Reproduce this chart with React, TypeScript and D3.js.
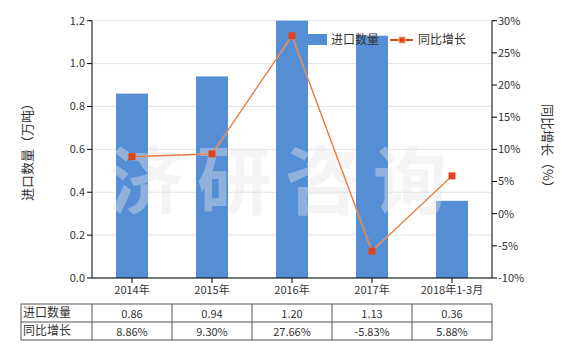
import React from "react";
import * as d3 from "d3";

const categories = ["2014年", "2015年", "2016年", "2017年", "2018年1-3月"];
const importQty = [0.86, 0.94, 1.2, 1.13, 0.36];
const growth = [8.86, 9.3, 27.66, -5.83, 5.88];
const qtyLabels = ["0.86", "0.94", "1.20", "1.13", "0.36"];
const growthLabels = ["8.86%", "9.30%", "27.66%", "-5.83%", "5.88%"];
const leftTicks = [0, 0.2, 0.4, 0.6, 0.8, 1.0, 1.2];
const rightTicks = [-10, -5, 0, 5, 10, 15, 20, 25, 30];

const W = 580, H = 350;
const L = 92, R = 492, T = 20.7, B = 278;
const FONT = "'Noto Sans CJK SC', 'Microsoft YaHei', sans-serif";

export default function App() {
  const x = d3.scaleBand<string>().domain(categories).range([L, R]).paddingInner(0.6).paddingOuter(0.3);
  const yL = d3.scaleLinear().domain([0, 1.2]).range([B, T]);
  const yR = d3.scaleLinear().domain([-10, 30]).range([B, T]);
  const cx = (c: string) => (x(c) ?? 0) + x.bandwidth() / 2;
  const line = d3
    .line<number>()
    .x((_, i) => cx(categories[i]))
    .y((d) => yR(d));
  const step = x.step();
  const rowY = [304, 322, 340];

  return (
    <svg width={W} height={H} style={{ position: "absolute", left: 0, top: 0 }} fontFamily={FONT}>
      <rect width={W} height={H} fill="#fff" />
      {/* grid */}
      {leftTicks.map((t) => (
        <line key={t} x1={L} x2={R} y1={yL(t)} y2={yL(t)} stroke="#e3e3e3" strokeWidth={1} />
      ))}
      {/* bars */}
      {categories.map((c, i) => (
        <rect key={c} x={x(c)} width={x.bandwidth()} y={yL(importQty[i])} height={B - yL(importQty[i])} fill="#558ed5" />
      ))}
      {/* watermark */}
      <text x={285} y={208} textAnchor="middle" fontSize={74} fontWeight={700} fill="#e6e6e6" opacity={0.4} letterSpacing={14} fontFamily={FONT}>
        济研咨询
      </text>
      {/* line */}
      <path d={line(growth) ?? ""} fill="none" stroke="#f6b47c" strokeWidth={1.6} />
      <path d={line(growth) ?? ""} fill="none" stroke="#d9531e" strokeWidth={0.7} />
      {growth.map((g, i) => (
        <rect key={i} x={cx(categories[i]) - 3.5} y={yR(g) - 3.5} width={7} height={7} fill="#e0451a" />
      ))}
      {/* left axis */}
      <line x1={L} x2={L} y1={T} y2={B} stroke="#000" />
      {leftTicks.map((t) => (
        <g key={t}>
          <line x1={L - 5} x2={L} y1={yL(t)} y2={yL(t)} stroke="#000" />
          <text x={L - 7} y={yL(t)} dy="0.35em" textAnchor="end" fontSize={11} fill="#333">
            {t.toFixed(1)}
          </text>
        </g>
      ))}
      {/* right axis */}
      <line x1={R} x2={R} y1={T} y2={B} stroke="#000" />
      {rightTicks.map((t) => (
        <g key={t}>
          <line x1={R} x2={R + 5} y1={yR(t)} y2={yR(t)} stroke="#000" />
          <text x={R + 6} y={yR(t)} dy="0.35em" textAnchor="start" fontSize={11} fill="#333">
            {t}%
          </text>
        </g>
      ))}
      {/* bottom axis */}
      <line x1={L} x2={R} y1={B} y2={B} stroke="#000" />
      {categories.map((c) => (
        <g key={c}>
          <line x1={cx(c)} x2={cx(c)} y1={B} y2={B + 5} stroke="#000" />
          <text x={cx(c)} y={B + 16} textAnchor="middle" fontSize={11} fill="#333">
            {c}
          </text>
        </g>
      ))}
      {/* axis titles */}
      <text transform={`translate(32,149) rotate(-90)`} textAnchor="middle" fontSize={13} fill="#333">
        进口数量（万吨）
      </text>
      <text transform={`translate(543,149) rotate(90)`} textAnchor="middle" fontSize={13} fill="#333">
        同比增长（%）
      </text>
      {/* legend */}
      <rect x={303} y={34} width={24} height={11} fill="#558ed5" />
      <text x={331} y={40} dy="0.35em" fontSize={12} fill="#333">进口数量</text>
      <line x1={390} x2={413} y1={40} y2={40} stroke="#e0451a" strokeWidth={2} />
      <rect x={399} y={37} width={6} height={6} fill="#e0451a" stroke="#f6b47c" strokeWidth={1} />
      <text x={418} y={40} dy="0.35em" fontSize={12} fill="#333">同比增长</text>
      {/* table */}
      <g stroke="#555" strokeWidth={1} fill="none">
        <rect x={21} y={rowY[0]} width={R - 21} height={rowY[2] - rowY[0]} />
        <line x1={21} x2={R} y1={rowY[1]} y2={rowY[1]} />
        {[0, 1, 2, 3, 4].map((i) => (
          <line key={i} x1={L + i * step} x2={L + i * step} y1={rowY[0]} y2={rowY[2]} />
        ))}
      </g>
      <text x={23} y={(rowY[0] + rowY[1]) / 2} dy="0.35em" fontSize={12} fill="#333">进口数量</text>
      <text x={23} y={(rowY[1] + rowY[2]) / 2} dy="0.35em" fontSize={12} fill="#333">同比增长</text>
      {categories.map((c, i) => (
        <g key={c}>
          <text x={cx(c)} y={(rowY[0] + rowY[1]) / 2 + 1} dy="0.35em" textAnchor="middle" fontSize={11} fill="#333">
            {qtyLabels[i]}
          </text>
          <text x={cx(c)} y={(rowY[1] + rowY[2]) / 2 + 1} dy="0.35em" textAnchor="middle" fontSize={11} fill="#333">
            {growthLabels[i]}
          </text>
        </g>
      ))}
    </svg>
  );
}
